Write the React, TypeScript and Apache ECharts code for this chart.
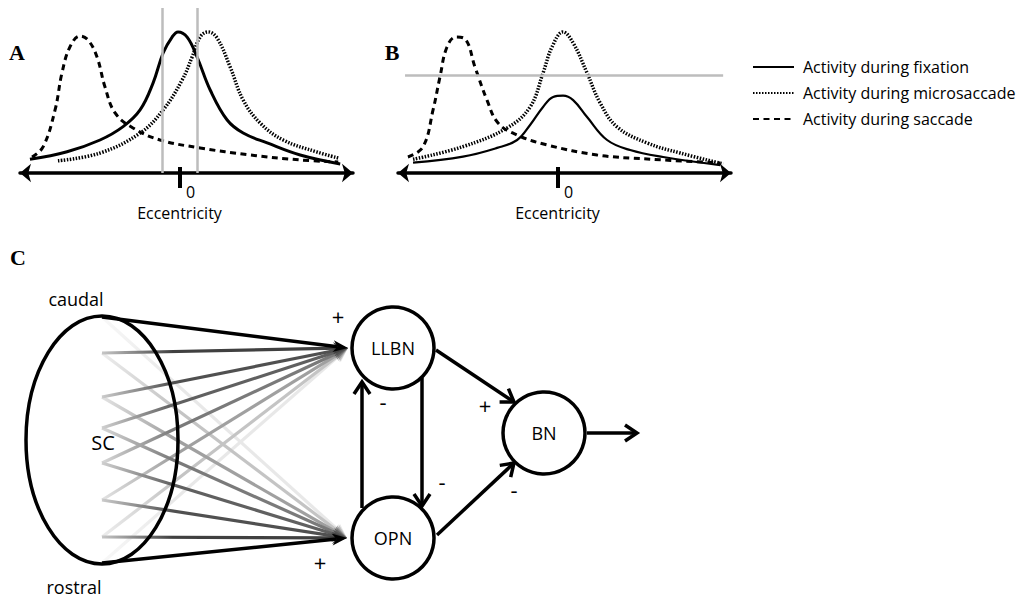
import React, { useEffect, useRef } from "react";
import * as echarts from "echarts";

// ---------- Data: panels A and B (eccentricity, normalised activity) ----------
const SERIES_NAMES = [
  "Activity during fixation",
  "Activity during microsaccade",
  "Activity during saccade",
];

const aFixationEcc = [-9.38, -7.06, -5.0, -3.56, -2.5, -1.69, -1.06, -0.5, -0.13, 0.44, 1.06, 1.88, 2.94, 3.94, 5.44, 7.5, 10.0];
const aFixationAct = [0.083, 0.129, 0.2, 0.281, 0.382, 0.545, 0.727, 0.824, 0.855, 0.824, 0.703, 0.503, 0.321, 0.242, 0.182, 0.109, 0.055];

const aMicroEcc = [-7.63, -5.0, -2.5, -1.06, 0.13, 0.75, 1.25, 1.75, 2.31, 3.13, 3.94, 5.0, 6.44, 8.56, 9.88];
const aMicroAct = [0.074, 0.121, 0.242, 0.382, 0.564, 0.703, 0.824, 0.855, 0.818, 0.642, 0.442, 0.303, 0.2, 0.127, 0.091];

const aSaccadeEcc = [-9.25, -8.56, -7.81, -7.38, -6.88, -6.25, -5.75, -5.19, -4.69, -4.06, -2.94, -1.25, 1.25, 4.38, 7.5, 9.88];
const aSaccadeAct = [0.097, 0.158, 0.382, 0.606, 0.764, 0.83, 0.806, 0.703, 0.521, 0.364, 0.273, 0.2, 0.152, 0.109, 0.079, 0.067];

const bFixationEcc = [-9.06, -5.94, -3.81, -2.56, -1.75, -0.94, -0.31, 0.31, 0.94, 1.81, 3.06, 4.5, 6.56, 10.13];
const bFixationAct = [0.063, 0.099, 0.152, 0.2, 0.291, 0.4, 0.461, 0.469, 0.442, 0.339, 0.2, 0.139, 0.097, 0.048];

const bMicroEcc = [-9.06, -5.94, -3.19, -1.75, -0.94, -0.38, 0.31, 0.94, 1.81, 2.63, 3.69, 5.56, 7.63, 10.31];
const bMicroAct = [0.083, 0.16, 0.273, 0.4, 0.606, 0.764, 0.855, 0.788, 0.606, 0.424, 0.279, 0.182, 0.121, 0.055];

const bSaccadeEcc = [-9.38, -8.44, -7.81, -7.38, -6.94, -6.38, -5.81, -5.19, -4.44, -3.75, -2.56, -0.69, 2.44, 5.56, 10.13];
const bSaccadeAct = [0.097, 0.158, 0.382, 0.582, 0.764, 0.824, 0.812, 0.642, 0.442, 0.303, 0.23, 0.17, 0.109, 0.085, 0.061];

const aBoundaryEcc = [-1.13, 1.06];
const bThresholdAct = 0.594;
const bThresholdEcc = [-9.56, 10.31];
const zeroTick = [0];
const ECC_MIN = -10;
const ECC_MAX = 10.8;

// ---------- Data: panel C (network) ----------
const scSiteCount = 8; // caudal (0) ... rostral (7)
const fanTargets = ["LLBN", "OPN"];
const nodeNames = ["LLBN", "OPN", "BN"];
const edges = [
  { key: "LLBN-BN", sign: "+" },
  { key: "OPN-BN", sign: "-" },
  { key: "LLBN-OPN", sign: "-" },
  { key: "OPN-LLBN", sign: "-" },
  { key: "BN-out", sign: "" },
];
const fanSigns = ["+", "+"];

// ---------- Layout (positions / styles) ----------
const FONT = '"Open Sans", "Noto Sans", sans-serif';
const SC = { cx: 102, cy: 440, rx: 76, ry: 124 };
const SRC_X = 102;
const SRC_Y = [317, 353, 397, 428, 463, 500, 537, 563];
const FAN_TIP: Record<string, number[]> = { LLBN: [348, 348], OPN: [347, 538] };
const FAN_SHADES = ["#000000", "#404040", "#505050", "#606060", "#7a7a7a", "#a0a0a0", "#c4c4c4", "#e8e8e8"];
const NODE_POS: Record<string, number[]> = { LLBN: [393, 348], OPN: [393, 538], BN: [544, 433] };
const NODE_R = 41;
const EDGE_POS: Record<string, number[][]> = {
  "LLBN-BN": [[436, 350], [514, 402]],
  "OPN-BN": [[437, 535], [514, 463]],
  "LLBN-OPN": [[422, 378], [422, 506]],
  "OPN-LLBN": [[362, 508], [362, 382]],
  "BN-out": [[587, 433], [637, 433]],
};
const EDGE_SIGN_POS: Record<string, number[]> = {
  "LLBN-BN": [485, 405],
  "OPN-BN": [514, 489],
  "LLBN-OPN": [442, 481],
  "OPN-LLBN": [383, 401],
};
const FAN_SIGN_POS = [[338, 316], [320, 562]];

const zip = (xs: number[], ys: number[]) => xs.map((x, i) => [x, ys[i]]);

function lighten(hex: string, t: number) {
  const n = parseInt(hex.slice(1), 16);
  const r = (n >> 16) & 255, g = (n >> 8) & 255, b = n & 255;
  const f = (c: number) => Math.round(c + (255 - c) * t);
  return `rgb(${f(r)},${f(g)},${f(b)})`;
}

function buildGraphic() {
  const els: any[] = [];
  const items: any[] = [];
  for (let i = 0; i < scSiteCount; i++) {
    fanTargets.forEach((t, k) => {
      const idx = k === 0 ? i : scSiteCount - 1 - i;
      items.push({ sy: SRC_Y[i], tip: FAN_TIP[t], shade: FAN_SHADES[idx], idx });
    });
  }
  items.sort((a, b) => b.idx - a.idx);
  items.forEach((it) => {
    const [tx, ty] = it.tip;
    const dx = tx - SRC_X, dy = ty - it.sy;
    const len = Math.hypot(dx, dy);
    const ux = dx / len, uy = dy / len;
    const nx = -uy, ny = ux;
    const L = 15, W = 6;
    const startCol = it.idx === 0 ? it.shade : lighten(it.shade, 0.7);
    els.push({
      type: "line",
      z: 10,
      shape: { x1: SRC_X, y1: it.sy, x2: tx - ux * L * 0.7, y2: ty - uy * L * 0.7 },
      style: {
        stroke: new echarts.graphic.LinearGradient(0, 0, 1, 0, [
          { offset: 0, color: startCol },
          { offset: 0.3, color: it.shade },
          { offset: 1, color: it.shade },
        ]),
        lineWidth: it.idx === 0 ? 3.5 : 3.2,
      },
    });
    els.push({
      type: "polygon",
      z: 10,
      shape: {
        points: [
          [tx, ty],
          [tx - ux * L + nx * W, ty - uy * L + ny * W],
          [tx - ux * L * 0.7, ty - uy * L * 0.7],
          [tx - ux * L - nx * W, ty - uy * L - ny * W],
        ],
      },
      style: { fill: it.shade },
    });
  });
  els.push({
    type: "ellipse",
    z: 12,
    shape: { cx: SC.cx, cy: SC.cy, rx: SC.rx, ry: SC.ry },
    style: { fill: "none", stroke: "#000", lineWidth: 3.5 },
  });
  edges.forEach((e) => {
    const [[x1, y1], [x2, y2]] = EDGE_POS[e.key];
    const dx = x2 - x1, dy = y2 - y1;
    const len = Math.hypot(dx, dy);
    const ux = dx / len, uy = dy / len;
    const nx = -uy, ny = ux;
    const L = 12, W = 8;
    els.push({
      type: "line",
      z: 12,
      shape: { x1, y1, x2: x2 - ux * 1.5, y2: y2 - uy * 1.5 },
      style: { stroke: "#000", lineWidth: 3.5 },
    });
    els.push({
      type: "polyline",
      z: 12,
      shape: {
        points: [
          [x2 - ux * L + nx * W, y2 - uy * L + ny * W],
          [x2, y2],
          [x2 - ux * L - nx * W, y2 - uy * L - ny * W],
        ],
      },
      style: { stroke: "#000", lineWidth: 3.5, fill: "none", lineJoin: "miter" },
    });
    if (e.sign && EDGE_SIGN_POS[e.key]) {
      const [sx, sy] = EDGE_SIGN_POS[e.key];
      els.push({
        type: "text",
        z: 14,
        x: sx,
        y: sy,
        style: { text: e.sign, font: `22px ${FONT}`, fill: "#000", align: "center", verticalAlign: "middle" },
      });
    }
  });
  fanSigns.forEach((s, i) => {
    els.push({
      type: "text",
      z: 14,
      x: FAN_SIGN_POS[i][0],
      y: FAN_SIGN_POS[i][1],
      style: { text: s, font: `22px ${FONT}`, fill: "#000", align: "center", verticalAlign: "middle" },
    });
  });
  nodeNames.forEach((n) => {
    const [cx, cy] = NODE_POS[n];
    els.push({
      type: "circle",
      z: 13,
      shape: { cx, cy, r: NODE_R },
      style: { fill: "#fff", stroke: "#000", lineWidth: 3.5 },
    });
    els.push({
      type: "text",
      z: 14,
      x: cx,
      y: cy,
      style: { text: n, font: `18px ${FONT}`, fill: "#000", align: "center", verticalAlign: "middle" },
    });
  });
  const serif = 'bold 22px "Liberation Serif", "Times New Roman", serif';
  const texts: [string, number, number, string][] = [
    ["caudal", 76, 299, `18px ${FONT}`],
    ["rostral", 74, 587, `18px ${FONT}`],
    ["SC", 103, 442, `20px ${FONT}`],
    ["A", 17, 52, serif],
    ["B", 392, 52, serif],
    ["C", 18, 257, serif],
  ];
  texts.forEach(([t, x, y, f]) =>
    els.push({
      type: "text",
      z: 14,
      x,
      y,
      style: { text: t, font: f, fill: "#000", align: "center", verticalAlign: "middle" },
    })
  );
  return els;
}

function xAxesFor(gridIndex: number) {
  return [
    {
      gridIndex,
      type: "value",
      min: ECC_MIN,
      max: ECC_MAX,
      position: "bottom",
      axisLine: {
        show: true,
        symbol: ["arrow", "arrow"],
        symbolSize: [14, 11],
        lineStyle: { color: "#000", width: 3.5 },
      },
      axisTick: { show: true, customValues: zeroTick, length: 15, lineStyle: { color: "#000", width: 4 } },
      axisLabel: {
        show: true,
        customValues: zeroTick,
        margin: 11,
        align: "left",
        padding: [0, 0, 0, 6],
        fontSize: 16,
        fontFamily: FONT,
        color: "#000",
      },
      splitLine: { show: false },
      name: "Eccentricity",
      nameLocation: "middle",
      nameGap: 32,
      nameTextStyle: { fontSize: 16, fontFamily: FONT, color: "#000", padding: [0, 14, 0, 0] },
    },
    {
      gridIndex,
      type: "value",
      min: ECC_MIN,
      max: ECC_MAX,
      position: "bottom",
      axisLine: { show: false },
      axisTick: { show: true, inside: true, customValues: zeroTick, length: 6, lineStyle: { color: "#000", width: 4 } },
      axisLabel: { show: false },
      splitLine: { show: false },
    },
  ];
}

export default function App() {
  const ref = useRef<HTMLDivElement>(null);
  useEffect(() => {
    if (!ref.current) return;
    const chart = echarts.init(ref.current, null, { renderer: "svg" });
    const fixStyle = (w: number) => ({ color: "#000", width: w, type: "solid" as const });
    const microStyle = { color: "#000", width: 3.5, type: [1.5, 1.5], cap: "butt" as const };
    const sacStyle = { color: "#000", width: 3, type: [6, 4.5], cap: "butt" as const };
    const base = { type: "line", symbol: "none", smooth: 0.4, silent: true, itemStyle: { color: "#000" } };
    chart.setOption({
      animation: false,
      color: ["#000"],
      grid: [
        { left: 20, top: 8, width: 333, height: 165 },
        { left: 398, top: 8, width: 333, height: 165 },
      ],
      xAxis: [...xAxesFor(0), ...xAxesFor(1)],
      yAxis: [
        { gridIndex: 0, type: "value", min: 0, max: 1, show: false },
        { gridIndex: 1, type: "value", min: 0, max: 1, show: false },
      ],
      legend: {
        data: SERIES_NAMES,
        orient: "vertical",
        left: 752,
        top: 59,
        padding: 0,
        itemWidth: 41,
        itemHeight: 14,
        itemGap: 10,
        selectedMode: false,
        itemStyle: { opacity: 0 },
        textStyle: { fontFamily: FONT, fontSize: 16, color: "#000", padding: [0, 0, 0, 4] },
      },
      series: [
        {
          ...base, name: SERIES_NAMES[0], xAxisIndex: 0, yAxisIndex: 0,
          data: zip(aFixationEcc, aFixationAct), lineStyle: fixStyle(3), z: 4,
          markLine: {
            symbol: "none", silent: true, label: { show: false },
            lineStyle: { color: "#bdbdbd", width: 2.5, type: "solid" },
            data: aBoundaryEcc.map((v) => ({ xAxis: v })),
          },
        },
        { ...base, name: SERIES_NAMES[1], xAxisIndex: 0, yAxisIndex: 0, data: zip(aMicroEcc, aMicroAct), lineStyle: microStyle, z: 3 },
        { ...base, name: SERIES_NAMES[2], xAxisIndex: 0, yAxisIndex: 0, data: zip(aSaccadeEcc, aSaccadeAct), lineStyle: sacStyle, z: 3 },
        {
          ...base, name: SERIES_NAMES[0], xAxisIndex: 2, yAxisIndex: 1,
          data: zip(bFixationEcc, bFixationAct), lineStyle: fixStyle(2.2), z: 4,
          markLine: {
            symbol: "none", silent: true, label: { show: false },
            lineStyle: { color: "#bdbdbd", width: 2.5, type: "solid" },
            data: [[{ coord: [bThresholdEcc[0], bThresholdAct] }, { coord: [bThresholdEcc[1], bThresholdAct] }]],
          },
        },
        { ...base, name: SERIES_NAMES[1], xAxisIndex: 2, yAxisIndex: 1, data: zip(bMicroEcc, bMicroAct), lineStyle: microStyle, z: 3 },
        { ...base, name: SERIES_NAMES[2], xAxisIndex: 2, yAxisIndex: 1, data: zip(bSaccadeEcc, bSaccadeAct), lineStyle: sacStyle, z: 3 },
      ],
      graphic: { elements: buildGraphic() },
    });
    return () => chart.dispose();
  }, []);
  return (
    <div
      ref={ref}
      style={{ position: "fixed", left: 0, top: 0, width: 1031, height: 598, background: "#fff" }}
    />
  );
}
